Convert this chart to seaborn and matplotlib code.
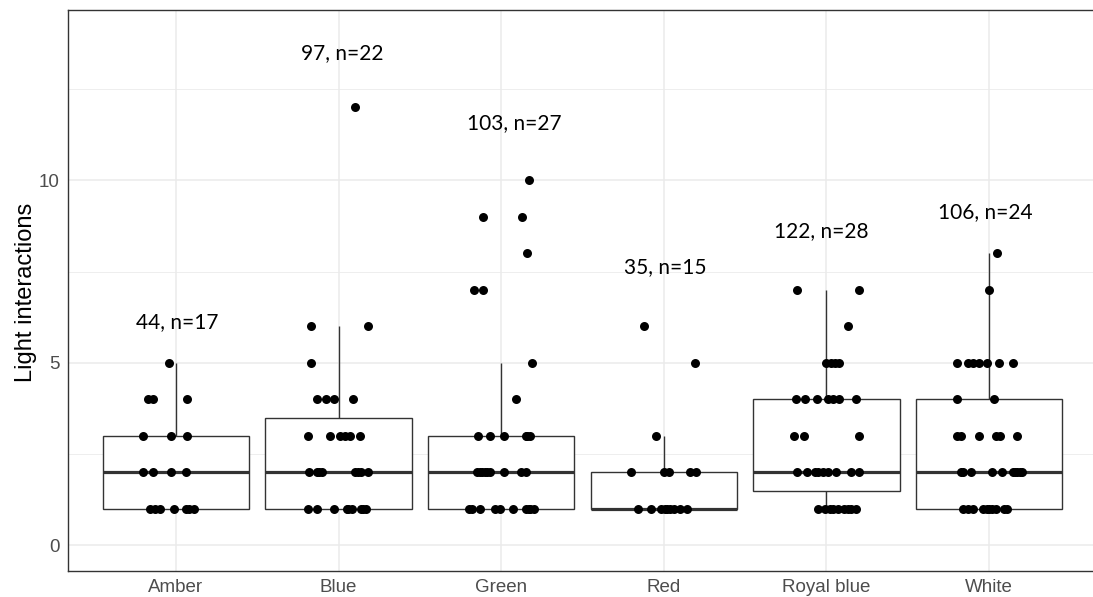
import numpy as np
import pandas as pd
import matplotlib
matplotlib.use("Agg")
import matplotlib.pyplot as plt
from matplotlib.ticker import MultipleLocator
import seaborn as sns

# Light colour groups and the number of light interactions per trial
colours = ["Amber", "Blue", "Green", "Red", "Royal blue", "White"]

amber = [5, 4, 4, 4, 3, 3, 3, 2, 2, 2, 2, 1, 1, 1, 1, 1, 1, 1]
blue = [12, 6, 6, 5, 4, 4, 4, 4, 3, 3, 3, 3, 3, 3,
        2, 2, 2, 2, 2, 2, 2, 2, 1, 1, 1, 1, 1, 1, 1, 1, 1]
green = [10, 9, 9, 8, 7, 7, 5, 4, 3, 3, 3, 3, 3, 3,
         2, 2, 2, 2, 2, 2, 2, 2, 2, 1, 1, 1, 1, 1, 1, 1, 1, 1, 1]
red = [6, 5, 3, 2, 2, 2, 2, 2, 1, 1, 1, 1, 1, 1, 1, 1, 1]
royal_blue = [7, 7, 6, 5, 5, 5, 5, 4, 4, 4, 4, 4, 4, 4, 3, 3, 3,
              2, 2, 2, 2, 2, 2, 2, 2, 2, 1, 1, 1, 1, 1, 1, 1, 1, 1]
white = [8, 7, 5, 5, 5, 5, 5, 5, 5, 4, 4, 3, 3, 3, 3, 3, 3,
         2, 2, 2, 2, 2, 2, 2, 2, 2, 2, 1, 1, 1, 1, 1, 1, 1, 1, 1, 1]

# Horizontal jitter of each point (in category widths)
amber_jitter = [-0.04, -0.17, -0.14, 0.07, -0.20, -0.03, 0.07,
                -0.20, -0.14, -0.03, 0.06,
                -0.16, -0.13, -0.10, -0.01, 0.06, 0.08, 0.11]
blue_jitter = [0.10, -0.17, 0.18, -0.17, -0.13, -0.08, -0.03, 0.09,
               -0.19, -0.05, 0.01, 0.04, 0.07, 0.13,
               -0.18, -0.13, -0.10, 0.10, 0.14, 0.18, -0.12, 0.12,
               -0.19, -0.13, -0.03, 0.05, 0.08, 0.14, 0.17, 0.06, 0.15]
green_jitter = [0.17, -0.11, 0.13, 0.16, -0.17, -0.11, 0.19, 0.09,
                -0.14, -0.07, 0.02, 0.15, 0.18, 0.16,
                -0.15, -0.12, -0.09, -0.07, 0.02, 0.12, 0.15, -0.13, -0.10,
                -0.20, -0.18, -0.13, -0.04, -0.01, 0.07, 0.15, 0.17, 0.20, 0.18]
red_jitter = [-0.12, 0.19, -0.05, -0.20, 0.00, 0.03, 0.16, 0.20,
              -0.16, -0.08, -0.02, 0.01, 0.04, 0.06, 0.10, 0.14, 0.02]
royal_blue_jitter = [-0.18, 0.20, 0.13, 0.00, 0.03, 0.05, 0.08,
                     -0.19, -0.13, -0.06, 0.01, 0.04, 0.08, 0.18,
                     -0.20, -0.14, 0.20,
                     -0.18, -0.12, -0.07, -0.05, -0.02, 0.01, 0.06, 0.15, 0.20,
                     -0.05, -0.01, 0.02, 0.07, 0.11, 0.15, 0.18, 0.04, 0.13]
white_jitter = [0.05, 0.00, -0.20, -0.13, -0.10, -0.06, -0.01, 0.06, 0.15,
                -0.20, 0.03, -0.20, -0.17, -0.06, 0.04, 0.07, 0.17,
                -0.17, -0.11, 0.02, 0.08, 0.15, 0.17, 0.20, 0.16, 0.19, -0.16,
                -0.16, -0.13, -0.10, -0.04, -0.01, 0.02, 0.04, 0.09, 0.11, 0.00]

# Group summaries written above each box
summary_labels = ["44, n=17", "97, n=22", "103, n=27", "35, n=15", "122, n=28", "106, n=24"]
summary_x = [0.01, 1.02, 2.08, 3.01, 3.97, 4.98]
summary_y = [6.12, 13.47, 11.56, 7.62, 8.60, 9.12]

groups = [amber, blue, green, red, royal_blue, white]
jitters = [amber_jitter, blue_jitter, green_jitter, red_jitter,
           royal_blue_jitter, white_jitter]

rows = []
for i, (name, vals, jit) in enumerate(zip(colours, groups, jitters)):
    for v, j in zip(vals, jit):
        rows.append({"colour": name, "interactions": v, "xpos": i + j})
df = pd.DataFrame(rows)

sns.set_style("white")
plt.rcParams["font.family"] = ["Liberation Sans", "DejaVu Sans"]

W, H = 1093, 597
fig = plt.figure(figsize=(W / 100, H / 100), dpi=100)
ax = fig.add_axes([68 / W, 26 / H, 1029 / W, 561 / H])

dark = "#333333"
sns.boxplot(data=df, x="colour", y="interactions", order=colours,
            width=0.9, whis=1.5, showfliers=False, showcaps=False,
            color="white", linecolor=dark, linewidth=1.0,
            medianprops=dict(linewidth=2.3, color=dark),
            ax=ax, zorder=2)

sns.scatterplot(data=df, x="xpos", y="interactions", color="black",
                s=42, linewidth=0, ax=ax, zorder=3, legend=False)

for lab, lx, ly in zip(summary_labels, summary_x, summary_y):
    ax.text(lx, ly, lab, ha="center", va="center", fontsize=15,
            color="black", family=["Lato", "DejaVu Sans"], zorder=4)

ax.set_xlim(-0.664, 5.664)
ax.set_ylim(-0.70, 14.66)
ax.set_xticks(range(len(colours)))
ax.set_xticklabels(colours)
ax.set_yticks([0, 5, 10])
ax.yaxis.set_minor_locator(MultipleLocator(2.5))

ax.set_axisbelow(True)
ax.grid(False)
ax.yaxis.grid(True, which="major", color="#EBEBEB", linewidth=1.1)
ax.yaxis.grid(True, which="minor", color="#EBEBEB", linewidth=0.6)
ax.xaxis.grid(True, which="major", color="#EBEBEB", linewidth=1.1)

for side, sp in ax.spines.items():
    sp.set_visible(side != "right")
    sp.set_color(dark)
    sp.set_linewidth(1.0)

ax.tick_params(axis="both", which="major", length=3.5, width=0.8,
               color=dark, labelcolor="#4D4D4D", labelsize=13.5, pad=2.5)
ax.tick_params(axis="both", which="minor", length=0)

ax.set_xlabel("")
ax.set_ylabel("Light interactions", fontsize=17, color="black")
ax.yaxis.set_label_coords(-0.030, 0.497)

fig.savefig("out.png", dpi=100)
